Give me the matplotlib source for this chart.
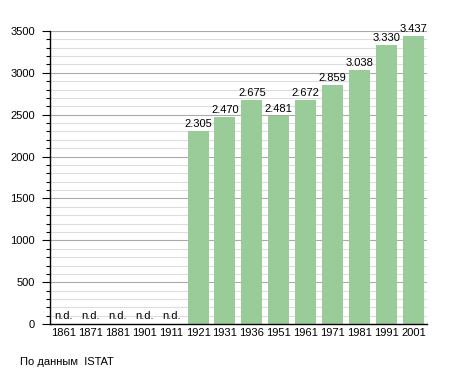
import matplotlib
matplotlib.use("Agg")
import matplotlib.pyplot as plt
from matplotlib.ticker import MultipleLocator

plt.rcParams['font.family'] = ['Liberation Sans', 'DejaVu Sans']

# Census years and population (None = no data)
years = ["1861", "1871", "1881", "1901", "1911", "1921", "1931",
         "1936", "1951", "1961", "1971", "1981", "1991", "2001"]
population = [None, None, None, None, None, 2305, 2470,
              2675, 2481, 2672, 2859, 3038, 3330, 3437]

bar_color = "#99cc99"
fs = 8

fig = plt.figure(figsize=(4.55, 3.73), dpi=100)
ax = fig.add_axes([0.11, 0.131, 0.828, 0.786])

xs = list(range(len(years)))
heights = [p if p is not None else 0 for p in population]
ax.bar(xs, heights, width=0.78, color=bar_color, zorder=2)

for x, p in zip(xs, population):
    if p is None:
        ax.text(x, 40, "n.d.", ha="center", va="bottom", fontsize=fs)
    else:
        label = f"{p:,}".replace(",", ".")
        ax.text(x, p + 25, label, ha="center", va="bottom", fontsize=fs)

ax.set_xlim(-0.5, len(years) - 0.5)
ax.set_ylim(0, 3500)
ax.set_xticks(xs)
ax.set_xticklabels(years, fontsize=fs)
ax.yaxis.set_major_locator(MultipleLocator(500))
ax.yaxis.set_minor_locator(MultipleLocator(100))
ax.tick_params(axis="y", labelsize=fs, length=6, width=0.8, pad=5)
ax.tick_params(axis="y", which="minor", length=3, width=0.8)
ax.tick_params(axis="x", length=0, pad=3)

ax.grid(axis="y", which="minor", color="#dddddd", linewidth=0.8, zorder=0)
ax.grid(axis="y", which="major", color="#aaaaaa", linewidth=0.8, zorder=0)
ax.set_axisbelow(True)

for side in ("top", "right"):
    ax.spines[side].set_visible(False)
ax.spines["left"].set_linewidth(1)
ax.spines["bottom"].set_linewidth(1)

fig.text(20 / 455, 1 - 362 / 373, "По данным  ISTAT", fontsize=fs, va="center")

fig.savefig("out.png", dpi=100)
